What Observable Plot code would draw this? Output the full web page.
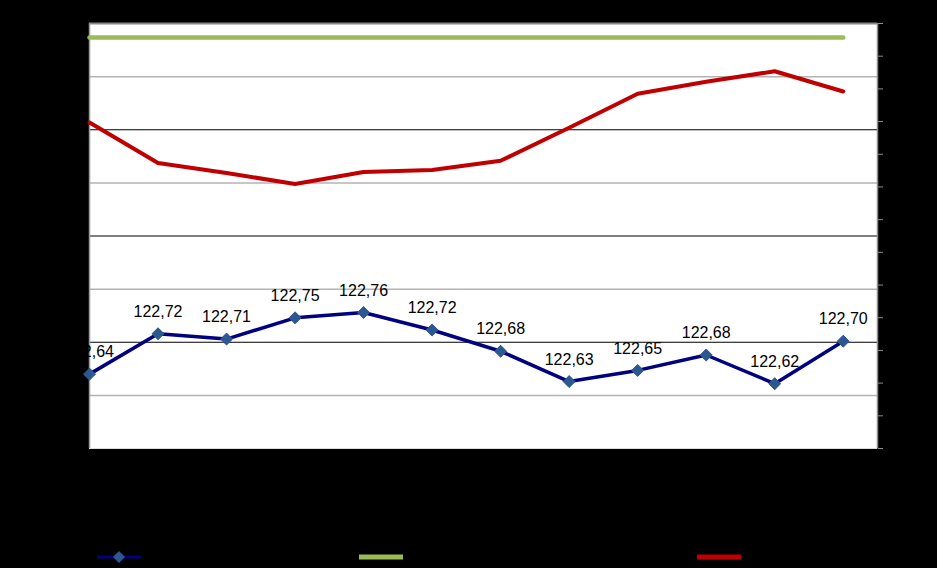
<!DOCTYPE html>
<html><head><meta charset="utf-8">
<script src="https://cdn.jsdelivr.net/npm/d3@7"></script>
<script src="https://cdn.jsdelivr.net/npm/@observablehq/plot@0.6"></script>
<style>
html,body{margin:0;padding:0;background:#000;overflow:hidden;}
#chart svg{display:block;background:#000;}
#legend{position:relative;width:937px;height:48px;background:#000;}
.item{position:absolute;top:30px;height:14px;display:flex;align-items:center;}
.item span{color:#000;font:13px "Liberation Sans",Arial,sans-serif;margin-left:6px;}
</style></head><body>
<div id="chart"></div>
<div id="legend"></div>
<script>
// ---- data ----
const periods = [0,1,2,3,4,5,6,7,8,9,10,11];
const blueValues = [122.640,122.716,122.706,122.746,122.756,122.723,122.683,122.626,122.647,122.676,122.622,122.702];
const redValues  = [9.97,8.73,8.43,8.09,8.46,8.52,8.80,9.81,10.85,11.22,11.54,10.92];
const greenValue = 12.57;
const leftTicks  = [122.5,122.6,122.7,122.8,122.9,123.0,123.1,123.2,123.3];
const rightTicks = [0,1,2,3,4,5,6,7,8,9,10,11,12,13];
const grayGrid  = [122.6,122.8,123.0,123.2];
const blackGrid = [122.7,122.9,123.1];
const seriesNames = ["", "", ""];

const leftDomain = [122.5, 123.3];
const rightDomain = [0, 13];
const xDomain = [0, 11.5];
const toLeft = d3.scaleLinear().domain(rightDomain).range(leftDomain);
const comma = v => v.toFixed(2).replace(".", ",");

const blue = periods.map((p,i) => ({p, v: blueValues[i], label: comma(blueValues[i])}));
const red = periods.map((p,i) => ({p, v: toLeft(redValues[i])}));
const green = periods.map(p => ({p, v: toLeft(greenValue)}));

const font = '"Liberation Sans", Arial, sans-serif';

const chart = Plot.plot({
  width: 937,
  height: 520,
  marginLeft: 89,
  marginRight: 60,
  marginTop: 23,
  marginBottom: 72,
  style: {background: "#000", fontFamily: font},
  x: {domain: xDomain, axis: null},
  y: {domain: leftDomain, axis: null},
  marks: [
    Plot.frame({fill: "white", stroke: null}),
    Plot.ruleY(grayGrid, {stroke: "#b3b3b3", strokeWidth: 1.5}),
    Plot.ruleY(blackGrid, {stroke: "#000", strokeWidth: 1}),
    Plot.ruleY([leftDomain[0]], {stroke: "#dcdcdc", strokeWidth: 1}),
    Plot.ruleY([leftDomain[1]], {stroke: "#888", strokeWidth: 2}),
    Plot.ruleX([xDomain[0]], {stroke: "#999", strokeWidth: 1.5}),
    Plot.ruleX([xDomain[1]], {stroke: "#8c8c8c", strokeWidth: 1.5}),
    Plot.axisY(leftTicks, {anchor: "left", tickSize: 0, tickPadding: 32, fill: "#000", fontSize: 13, tickFormat: d => d.toFixed(1).replace(".", ",")}),
    Plot.axisY(rightTicks.map(toLeft), {anchor: "right", tickSize: 5, stroke: "#8c8c8c", fill: "#000", fontSize: 13, tickFormat: d => String(Math.round(toLeft.invert(d)))}),
    Plot.lineY(green, {x: "p", y: "v", stroke: "#9bbb59", strokeWidth: 4.5}),
    Plot.lineY(red, {x: "p", y: "v", stroke: "#c00000", strokeWidth: 4}),
    Plot.lineY(blue, {x: "p", y: "v", stroke: "#000080", strokeWidth: 3.5}),
    Plot.dot(blue, {x: "p", y: "v", symbol: "diamond2", r: 5.4, fill: "#2c5790", stroke: "#2c5790", strokeWidth: 1}),
    Plot.text(blue, {x: "p", y: "v", text: "label", dy: -22, fontSize: 16, fill: "#000", fontFamily: font})
  ]
});
document.getElementById("chart").append(chart);

// ---- legend ----
const legend = document.getElementById("legend");
const swatches = [
  {left: 97, color: "#000080", w: 3, marker: true},
  {left: 359, color: "#9bbb59", w: 5, marker: false},
  {left: 697, color: "#c00000", w: 5, marker: false}
];
swatches.forEach((s, i) => {
  const it = document.createElement("div");
  it.className = "item";
  it.style.left = s.left + "px";
  const svg = `<svg width="44" height="14" viewBox="0 0 44 14"><line x1="0" x2="44" y1="7" y2="7" stroke="${s.color}" stroke-width="${s.w}"/>` +
    (s.marker ? `<path d="M22,1L28,7L22,13L16,7Z" fill="#2c5790"/>` : "") + `</svg>`;
  it.innerHTML = svg + `<span>${seriesNames[i]}</span>`;
  legend.append(it);
});
</script>
</body></html>
